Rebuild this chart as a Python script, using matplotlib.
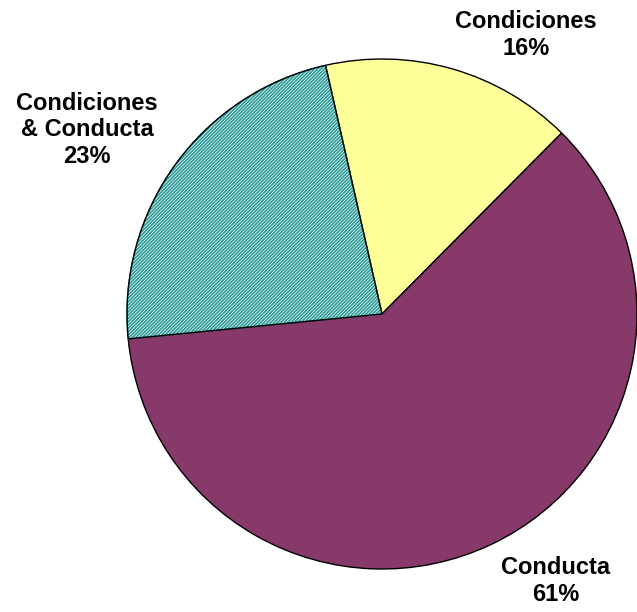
import matplotlib.pyplot as plt
import matplotlib.patches as mpatches

# data
categories = ["Condiciones", "Conducta", "Condiciones\n& Conducta"]
shares = [16, 61, 23]
colors = ["#FFFF99", "#873A6A", "#FFFFFF"]
hatches = [None, None, "//////////"]

plt.rcParams["font.family"] = ["Liberation Sans", "DejaVu Sans"]
plt.rcParams["hatch.linewidth"] = 1.2
plt.rcParams["hatch.color"] = "#2A9A96"

fig = plt.figure(figsize=(6.37, 6.12), dpi=100)
ax = fig.add_axes([0, 0, 1, 1])

# 1: pie, clockwise from the top-left edge of the yellow slice
wedges, _ = ax.pie(
    shares,
    colors=colors,
    startangle=102.8,
    counterclock=False,
    center=(382, 298),
    radius=255,
    wedgeprops={"edgecolor": "black", "linewidth": 1.0},
    frame=True,
)
for w, h in zip(wedges, hatches):
    if h:
        w.set_hatch(h)
        w.set_edgecolor("#2A9A96")
        # black outline on top of the hatched slice
        ax.add_patch(mpatches.Wedge(w.center, w.r, w.theta1, w.theta2,
                                    facecolor="none", edgecolor="black",
                                    linewidth=1.0))
ax.set_xlim(0, 637)
ax.set_ylim(0, 612)
ax.set_aspect("equal")
ax.axis("off")

# 2: labels
label_pos = [(526, 577), (556, 31), (87, 482)]
for (x, y), name, val in zip(label_pos, categories, shares):
    ax.text(x, y, f"{name}\n{val}%", ha="center", va="center",
            fontsize=17, fontweight="bold", linespacing=1.2)

plt.savefig("out.png", dpi=100)
plt.close(fig)
